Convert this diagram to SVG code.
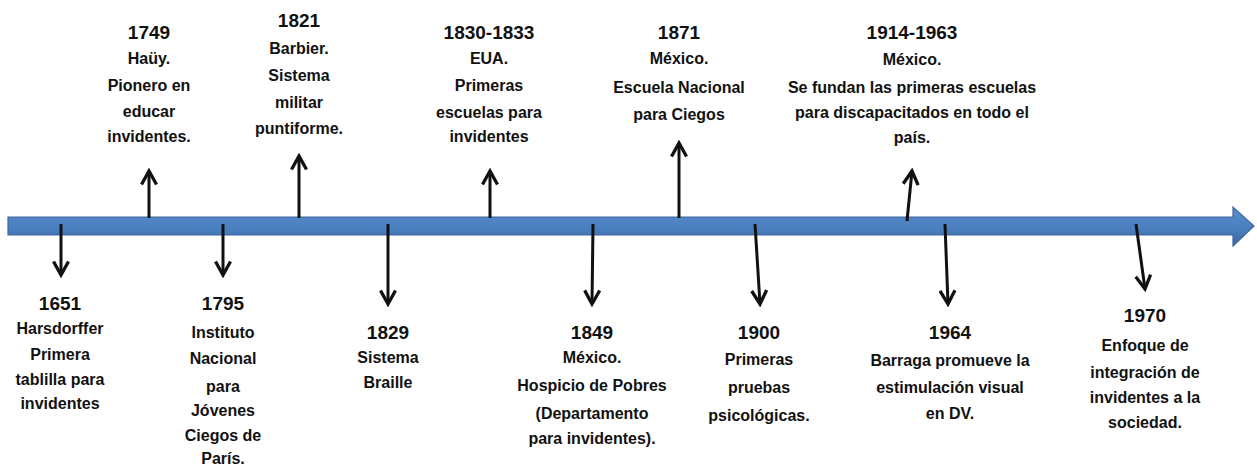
<svg xmlns="http://www.w3.org/2000/svg" width="1257" height="469" viewBox="0 0 1257 469">
<style>
text{font-family:"Liberation Sans Narrow","Arial Narrow","Liberation Sans",Arial,sans-serif;font-weight:bold;fill:#111;text-anchor:middle;font-size:16px}
text .y{font-size:19px}
.c{stroke:#111;stroke-width:3;fill:none;marker-end:url(#ah)}
</style>
<defs>
<linearGradient id="bg" x1="0" y1="0" x2="0" y2="1">
<stop offset="0" stop-color="#5a8dcc"/>
<stop offset="0.6" stop-color="#4a7dbd"/>
<stop offset="1" stop-color="#3a679f"/>
</linearGradient>
<marker id="ah" viewBox="0 0 12 12" refX="10" refY="6" markerWidth="6" markerHeight="6" orient="auto" markerUnits="strokeWidth">
<path d="M1,1 L10,6 L1,11" fill="none" stroke="#111" stroke-width="2.2"/>
</marker>
</defs>
<g id="timeline">
<polygon points="8,217 1233,217 1233,207 1254,226 1233,246 1233,235 8,235" fill="url(#bg)" stroke="#3a679f" stroke-width="1.2"/>
</g>
<g id="connectors">
<line class="c" x1="149" y1="218" x2="149" y2="171"/>
<line class="c" x1="299" y1="218" x2="299" y2="156"/>
<line class="c" x1="490" y1="218" x2="490" y2="171"/>
<line class="c" x1="679" y1="218" x2="679" y2="143"/>
<line class="c" x1="907" y1="221" x2="912" y2="171"/>
<line class="c" x1="61" y1="224" x2="61" y2="275"/>
<line class="c" x1="223" y1="224" x2="223" y2="275"/>
<line class="c" x1="388" y1="224" x2="388" y2="304"/>
<line class="c" x1="593" y1="224" x2="592" y2="304"/>
<line class="c" x1="755" y1="224" x2="760" y2="304"/>
<line class="c" x1="945" y1="224" x2="948" y2="304"/>
<line class="c" x1="1136" y1="224" x2="1145" y2="289"/>
</g>
<g id="n1749"><text x="149" y="39"><tspan class="y">1749</tspan><tspan x="149" y="64">Haüy.</tspan><tspan x="149" y="91">Pionero en</tspan><tspan x="149" y="117">educar</tspan><tspan x="149" y="142">invidentes.</tspan></text></g>
<g id="n1821"><text x="299" y="27"><tspan class="y">1821</tspan><tspan x="299" y="54">Barbier.</tspan><tspan x="299" y="81">Sistema</tspan><tspan x="299" y="108">militar</tspan><tspan x="299" y="134">puntiforme.</tspan></text></g>
<g id="n1830"><text x="489" y="39"><tspan class="y">1830-1833</tspan><tspan x="489" y="64">EUA.</tspan><tspan x="489" y="91">Primeras</tspan><tspan x="489" y="118">escuelas para</tspan><tspan x="489" y="142">invidentes</tspan></text></g>
<g id="n1871"><text x="679" y="39"><tspan class="y">1871</tspan><tspan x="679" y="64">México.</tspan><tspan x="679" y="93">Escuela Nacional</tspan><tspan x="679" y="120">para Ciegos</tspan></text></g>
<g id="n1914"><text x="912" y="39"><tspan class="y">1914-1963</tspan><tspan x="912" y="65">México.</tspan><tspan x="912" y="93">Se fundan las primeras escuelas</tspan><tspan x="912" y="118">para discapacitados en todo el</tspan><tspan x="912" y="143">país.</tspan></text></g>
<g id="n1651"><text x="60" y="310"><tspan class="y">1651</tspan><tspan x="60" y="334">Harsdorffer</tspan><tspan x="60" y="360">Primera</tspan><tspan x="60" y="385">tablilla para</tspan><tspan x="60" y="409">invidentes</tspan></text></g>
<g id="n1795"><text x="223" y="310"><tspan class="y">1795</tspan><tspan x="223" y="338">Instituto</tspan><tspan x="223" y="364">Nacional</tspan><tspan x="223" y="392">para</tspan><tspan x="223" y="416">Jóvenes</tspan><tspan x="223" y="441">Ciegos de</tspan><tspan x="223" y="464">París.</tspan></text></g>
<g id="n1829"><text x="388" y="339"><tspan class="y">1829</tspan><tspan x="388" y="363">Sistema</tspan><tspan x="388" y="388">Braille</tspan></text></g>
<g id="n1849"><text x="592" y="339"><tspan class="y">1849</tspan><tspan x="592" y="363">México.</tspan><tspan x="592" y="391">Hospicio de Pobres</tspan><tspan x="592" y="419">(Departamento</tspan><tspan x="592" y="444">para invidentes).</tspan></text></g>
<g id="n1900"><text x="759" y="339"><tspan class="y">1900</tspan><tspan x="759" y="365">Primeras</tspan><tspan x="759" y="393">pruebas</tspan><tspan x="759" y="421">psicológicas.</tspan></text></g>
<g id="n1964"><text x="950" y="339"><tspan class="y">1964</tspan><tspan x="950" y="366">Barraga promueve la</tspan><tspan x="950" y="393">estimulación visual</tspan><tspan x="950" y="419">en DV.</tspan></text></g>
<g id="n1970"><text x="1145" y="322"><tspan class="y">1970</tspan><tspan x="1145" y="351">Enfoque de</tspan><tspan x="1145" y="378">integración de</tspan><tspan x="1145" y="403">invidentes a la</tspan><tspan x="1145" y="428">sociedad.</tspan></text></g>
</svg>
